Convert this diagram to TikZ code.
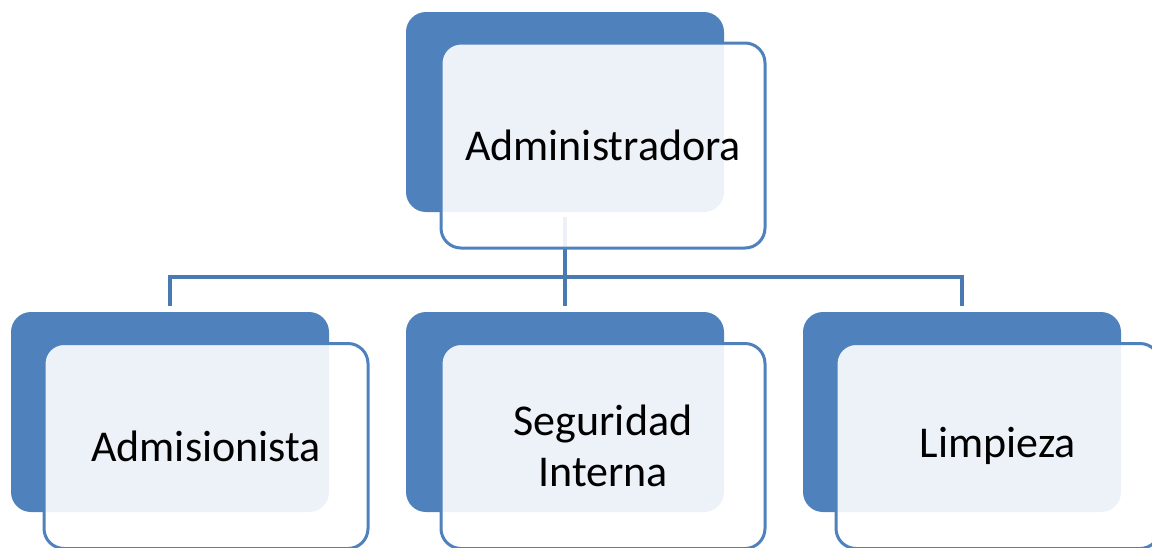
\documentclass[tikz,border=0pt]{standalone}
\usepackage{fontspec}
\setmainfont{Carlito}
\definecolor{acc}{RGB}{79,129,189}
\definecolor{lineblue}{RGB}{74,122,178}
\begin{document}
\begin{tikzpicture}[x=1pt,y=-1pt,
  back/.style={fill=acc,draw=none,rounded corners=20pt,minimum width=318pt,minimum height=200pt,inner sep=0pt},
  front/.style={fill=white,fill opacity=0.9,text opacity=1,draw=acc,line width=3pt,rounded corners=20pt,
    minimum width=324pt,minimum height=205pt,inner sep=0pt,align=center,font=\fontsize{44}{51}\selectfont},
  conn/.style={draw=lineblue,line width=3.5pt}]
\useasboundingbox (0,0) rectangle (1152,547);
% back boxes
\node[back] (dA) at (565,112) {};
\node[back] (dB) at (170,412) {};
\node[back] (dC) at (565,412) {};
\node[back] (dD) at (962,412) {};
% connectors
\coordinate (bus) at (565,277);
\draw[conn] ([yshift=-5pt]dA.south) -- ([yshift=6pt]dC.north);
\draw[conn] ([yshift=6pt]dB.north) |- (bus) -| ([yshift=6pt]dD.north);
% front boxes
\node[front] (fA) at (603,145.5) {Administradora};
\node[front] (fB) at (206,446) {Admisionista};
\node[front] (fC) at (603,446) {Seguridad\\Interna};
\node[front] (fD) at (998,446) {Limpieza};
\end{tikzpicture}
\end{document}
